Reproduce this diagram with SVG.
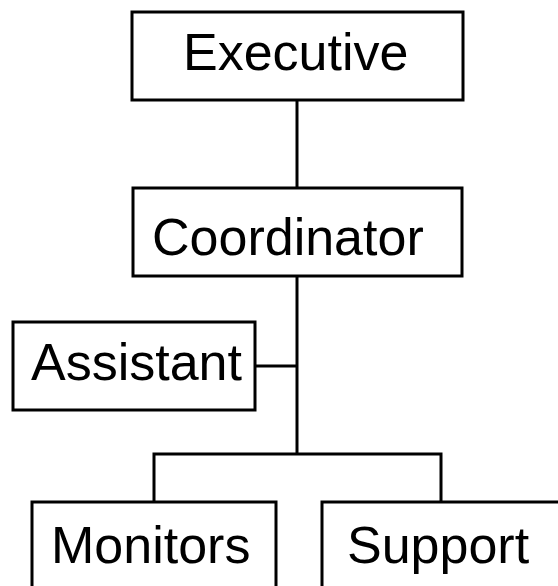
<svg xmlns="http://www.w3.org/2000/svg" width="558" height="586" viewBox="0 0 558 586">
  <style>
    .box { fill: #ffffff; stroke: #000000; stroke-width: 3; }
    .lbl { font-family: "Liberation Sans", Arial, sans-serif; font-size: 52px; fill: #000000; }
    .wire { fill: none; stroke: #000000; stroke-width: 3; }
  </style>
  <rect width="558" height="586" fill="#ffffff"/>
  <g id="connectors">
    <line class="wire" x1="297" y1="100" x2="297" y2="188"/>
    <line class="wire" x1="297" y1="276" x2="297" y2="454"/>
    <line class="wire" x1="255" y1="366" x2="297" y2="366"/>
    <polyline class="wire" points="154,502 154,454 441,454 441,502"/>
  </g>
  <g id="executive">
    <rect class="box" x="132" y="12" width="331" height="88"/>
    <text class="lbl" x="183" y="70">Executive</text>
  </g>
  <g id="coordinator">
    <rect class="box" x="133" y="188" width="329" height="88"/>
    <text class="lbl" x="152" y="255">Coordinator</text>
  </g>
  <g id="assistant">
    <rect class="box" x="13" y="322" width="242" height="88"/>
    <text class="lbl" x="31" y="380">Assistant</text>
  </g>
  <g id="monitors">
    <rect class="box" x="32" y="502" width="244" height="100"/>
    <text class="lbl" x="51" y="563">Monitors</text>
  </g>
  <g id="support">
    <rect class="box" x="322" y="502" width="250" height="100"/>
    <text class="lbl" x="347" y="563">Support</text>
  </g>
</svg>
